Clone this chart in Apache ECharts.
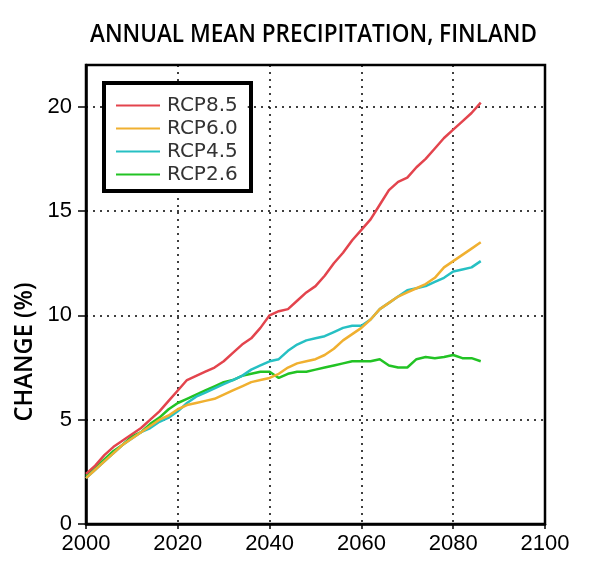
<!DOCTYPE html>
<html>
<head>
<meta charset="utf-8">
<script src="https://cdn.jsdelivr.net/npm/echarts@6/dist/echarts.min.js"></script>
<style>html,body{margin:0;padding:0;background:#fff}#c{width:591px;height:582px}</style>
</head>
<body>
<div id="c"></div>
<script>
// ---- data ----
const years = [2000,2002,2004,2006,2008,2010,2012,2014,2016,2018,2020,2022,2024,2026,2028,2030,2032,2034,2036,2038,2040,2042,2044,2046,2048,2050,2052,2054,2056,2058,2060,2062,2064,2066,2068,2070,2072,2074,2076,2078,2080,2082,2084,2086];
const seriesNames = ['RCP8.5','RCP6.0','RCP4.5','RCP2.6'];
const rcp85 = [2.4,2.8,3.3,3.7,4.0,4.3,4.6,5.0,5.4,5.9,6.4,6.9,7.1,7.3,7.5,7.8,8.2,8.6,8.9,9.4,10.0,10.2,10.3,10.7,11.1,11.4,11.9,12.5,13.0,13.6,14.1,14.6,15.3,16.0,16.4,16.6,17.1,17.5,18.0,18.5,18.9,19.3,19.7,20.2];
const rcp60 = [2.2,2.6,3.0,3.4,3.8,4.1,4.4,4.7,5.0,5.2,5.5,5.7,5.8,5.9,6.0,6.2,6.4,6.6,6.8,6.9,7.0,7.2,7.5,7.7,7.8,7.9,8.1,8.4,8.8,9.1,9.4,9.8,10.3,10.6,10.9,11.1,11.3,11.5,11.8,12.3,12.6,12.9,13.2,13.5];
const rcp45 = [2.2,2.6,3.0,3.4,3.8,4.1,4.4,4.6,4.9,5.1,5.4,5.8,6.1,6.3,6.5,6.7,6.9,7.1,7.4,7.6,7.8,7.9,8.3,8.6,8.8,8.9,9.0,9.2,9.4,9.5,9.5,9.8,10.3,10.6,10.9,11.2,11.3,11.4,11.6,11.8,12.1,12.2,12.3,12.6];
const rcp26 = [2.3,2.7,3.1,3.5,3.8,4.2,4.4,4.8,5.1,5.5,5.8,6.0,6.2,6.4,6.6,6.8,6.9,7.1,7.2,7.3,7.3,7.0,7.2,7.3,7.3,7.4,7.5,7.6,7.7,7.8,7.8,7.8,7.9,7.6,7.5,7.5,7.9,8.0,7.95,8.0,8.1,7.95,7.95,7.8];
const yTicks = [0,5,10,15,20];
const xTicks = [2000,2020,2040,2060,2080,2100];
const titleText = 'ANNUAL MEAN PRECIPITATION, FINLAND';
const yName = 'CHANGE (%)';

// ---- styling ----
const colors = ['#e3444d','#f0b030','#26c0c3','#22c324'];
const headFont = '"Open Sans", "Noto Sans", sans-serif';
function fitScale(text, font, target){
  const ctx = document.createElement('canvas').getContext('2d');
  ctx.font = font;
  return target / ctx.measureText(text).width;
}
const titleFontSpec = '600 25px ' + headFont;
const titleScale = fitScale(titleText, titleFontSpec, 447);
const nameScale = fitScale(yName, titleFontSpec, 139);

const allValues = [rcp85, rcp60, rcp45, rcp26];
const chart = echarts.init(document.getElementById('c'), null, {renderer:'canvas'});
const series = seriesNames.map((n,i)=>({
  name: n, type: 'line', showSymbol: false, symbol: 'none',
  data: years.map((y,k)=>[y, allValues[i][k]]),
  lineStyle: {color: colors[i], width: 2.5},
  itemStyle: {color: colors[i]},
  z: 10 - i
}));

chart.setOption({
  animation: false,
  backgroundColor: '#fff',
  grid: {left: 86, right: 46, top: 65, bottom: 58, show: true, borderColor: '#000', borderWidth: 2.5, containLabel: false},
  xAxis: {
    type: 'value', min: 2000, max: 2100, interval: 20,
    axisLine: {show: true, lineStyle: {color: '#000', width: 2.5}},
    axisTick: {show: true, inside: false, length: 5, lineStyle: {color: '#000', width: 1.5}},
    axisLabel: {color: '#000', fontFamily: '"Liberation Sans", Arial, sans-serif', fontSize: 22, margin: 9, formatter: v => String(v), customValues: xTicks},
    splitLine: {show: true, lineStyle: {color: '#000', width: 1.5, type: [2,5]}}
  },
  yAxis: {
    type: 'value', min: 0, max: 22, interval: 5,
    axisLine: {show: true, lineStyle: {color: '#000', width: 2.5}},
    axisTick: {show: true, inside: false, length: 8, lineStyle: {color: '#000', width: 1.5}, customValues: yTicks},
    axisLabel: {color: '#000', fontFamily: '"Liberation Sans", Arial, sans-serif', fontSize: 22, margin: 14, customValues: yTicks,
      formatter: v => (v % 5 === 0 ? String(v) : '')},
    splitLine: {show: true, lineStyle: {color: '#000', width: 1.5, type: [2,5]}}
  },
  legend: {
    orient: 'vertical', left: 106, top: 85, itemGap: 0,
    padding: [9, 10, 5, 10],
    width: 141, height: 94,
    backgroundColor: '#fff',
    itemWidth: 44, itemHeight: 2, icon: 'rect',
    itemStyle: {borderWidth: 0},
    lineStyle: {width: 1.5},
    data: seriesNames,
    textStyle: {color: '#333', fontFamily: '"DejaVu Sans", sans-serif', fontSize: 20, lineHeight: 23, padding: [0,0,0,2]}
  },
  graphic: [
    {type: 'rect', z: 100, shape: {x: 104, y: 83, width: 147, height: 108},
     style: {fill: null, stroke: '#000', lineWidth: 4}},
    {type: 'text', x: 313.5, y: 35, scaleX: titleScale, z: 100,
     style: {text: titleText, font: titleFontSpec, fill: '#000', textAlign: 'center', textVerticalAlign: 'middle'}},
    {type: 'text', x: 25, y: 352, rotation: Math.PI/2, scaleX: nameScale, z: 100,
     style: {text: yName, font: titleFontSpec, fill: '#000', textAlign: 'center', textVerticalAlign: 'middle'}}
  ],
  series: series
});
</script>
</body>
</html>
